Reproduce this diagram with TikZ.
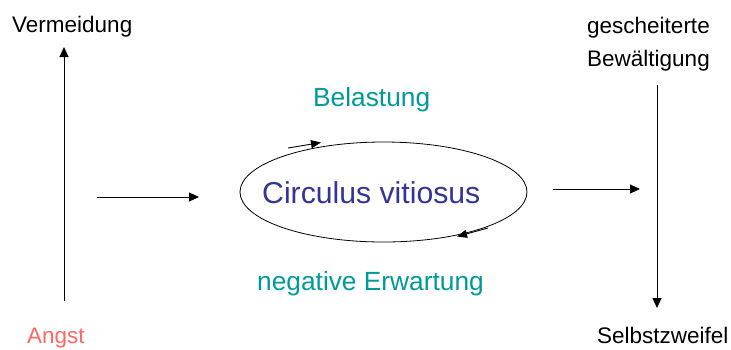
\documentclass[tikz,border=0pt]{standalone}
\usepackage{fontspec}
\setmainfont{Liberation Sans}
\usetikzlibrary{arrows.meta,shapes.geometric}
\definecolor{salmon}{RGB}{255,102,102}
\definecolor{tealc}{RGB}{0,153,153}
\definecolor{darkblue}{RGB}{51,51,153}
\begin{document}
\begin{tikzpicture}[x=1pt,y=-1pt,
  lbl/.style={inner sep=0pt, anchor=base west, font=\fontsize{22.5}{27}\selectfont},
  tlbl/.style={lbl, text=tealc, font=\fontsize{26.3}{31}\selectfont},
  arr/.style={line width=1pt, -{Triangle[length=10pt,width=9pt]}},
  carr/.style={line width=0.9pt, -{Triangle[length=10pt,width=8pt]}}]
\useasboundingbox (0,0) rectangle (731,349);
% labels
\node[lbl] (verm) at (12,32) {Vermeidung};
\node[lbl, text=salmon] (angst) at (27,343) {Angst};
\node[lbl] (gesch) at (587,33) {gescheiterte};
\node[lbl] (bew) at (587,66) {Bewältigung};
\node[lbl] (selbst) at (597,343) {Selbstzweifel};
\node[tlbl] (bel) at (313,106) {Belastung};
\node[tlbl] (neg) at (257,290) {negative Erwartung};
% ellipse
\node[draw, line width=0.8pt, ellipse, minimum width=287pt, minimum height=100pt, inner sep=0pt] (circ) at (383.5,192) {};
\node[inner sep=0pt, anchor=base west, text=darkblue, font=\fontsize{30.2}{36}\selectfont] (ctext) at (262,203) {Circulus vitiosus};
% coordinates
\coordinate (a1s) at (64,301);
\coordinate (a1e) at (64,47);
\coordinate (a2s) at (97,197);
\coordinate (a2e) at (199,197);
\coordinate (a3s) at (553,189);
\coordinate (a3e) at (640,189);
\coordinate (a4s) at (657,85);
\coordinate (a4e) at (657,308);
\coordinate (c1s) at (288,148);
\coordinate (c1e) at (321,142.5);
\coordinate (c2s) at (488,228);
\coordinate (c2e) at (457,236.5);
% arrows
\draw[arr] (a1s) -- (a1e);
\draw[arr] (a2s) -- (a2e);
\draw[arr] (a3s) -- (a3e);
\draw[arr] (a4s) -- (a4e);
\draw[carr] (c1s) -- (c1e);
\draw[carr] (c2s) -- (c2e);
\end{tikzpicture}
\end{document}
